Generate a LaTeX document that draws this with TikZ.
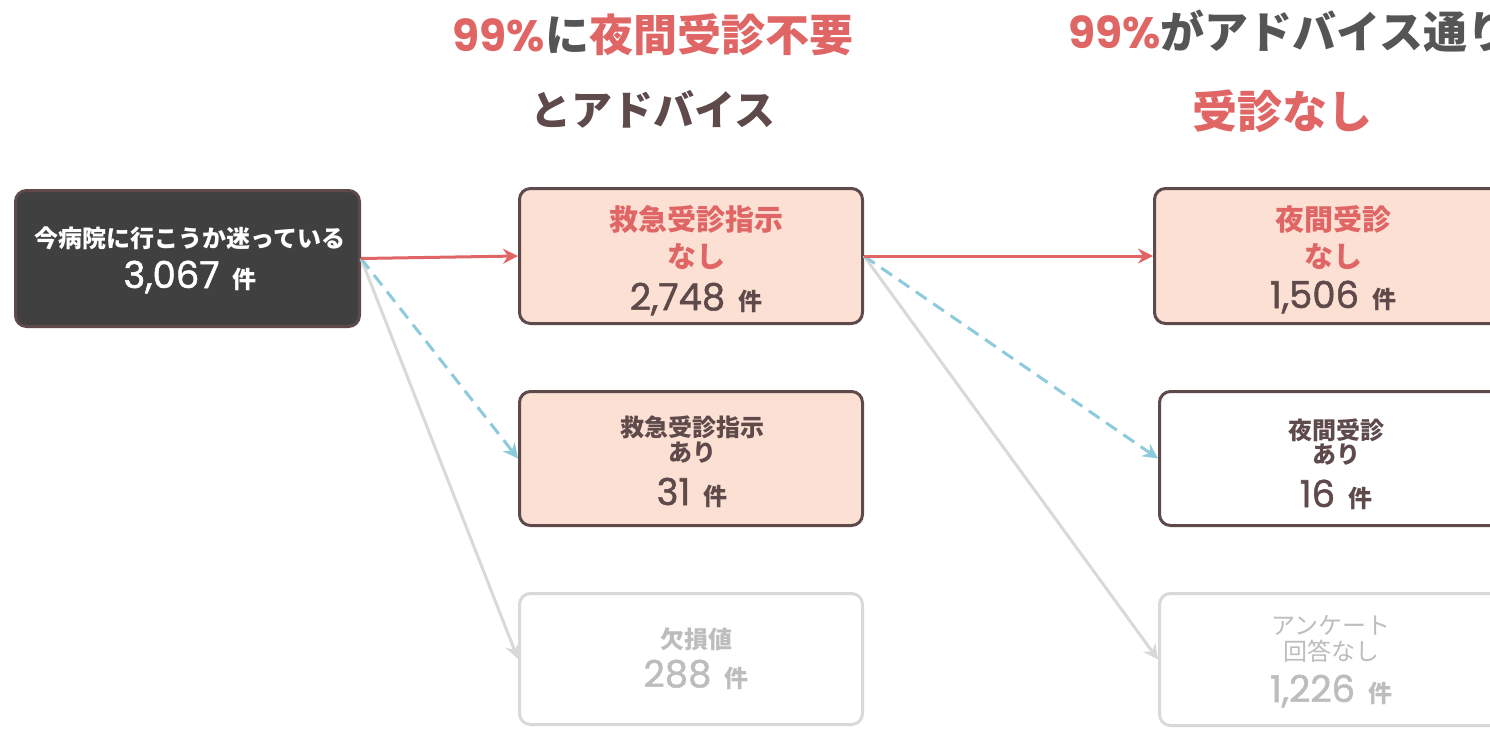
\documentclass[tikz,border=0pt]{standalone}
\usepackage{fontspec}
\setmainfont{Noto Sans CJK JP}
\newfontfamily\numf{Poppins}
\newfontfamily\numm[FakeBold=1.4]{Poppins}
\usetikzlibrary{arrows.meta}
\definecolor{cred}{HTML}{E06666}
\definecolor{cbrown}{HTML}{5E4A4A}
\definecolor{cpink}{HTML}{FCE0D4}
\definecolor{cdark}{HTML}{404040}
\definecolor{cgraytxt}{HTML}{555555}
\definecolor{clight}{HTML}{D9D9D9}
\definecolor{cltxt}{HTML}{BDBDBD}
\definecolor{cblue}{HTML}{8DCADC}
\newcommand{\setfs}[1]{\fontsize{#1pt}{#1pt}\selectfont}
\newcommand{\numken}[1]{{\numm\setfs{37}#1}\hspace{13pt}{\setfs{24}\bfseries 件}}
\tikzset{
  box/.style={draw=cbrown, line width=3pt, rounded corners=11pt, inner sep=0pt},
  pinkbox/.style={box, fill=cpink},
  darkbox/.style={box, fill=cdark},
  whitebox/.style={box, fill=white},
  graybox/.style={draw=clight, line width=3pt, rounded corners=11pt, fill=white, inner sep=0pt},
  txt/.style={anchor=base, inner sep=0pt},
  conn/.style={line width=3pt, -{Stealth[length=15pt,width=15pt,inset=5pt]}},
  redc/.style={conn, draw=cred},
  bluec/.style={conn, draw=cblue, dash pattern=on 13pt off 8pt},
  grayc/.style={conn, draw=clight}
}
\begin{document}
\begin{tikzpicture}[x=1pt,y=-1pt]
\useasboundingbox (0,0) rectangle (1490,728);
\clip (0,0) rectangle (1490,728);
% titles
\node[txt] (t1) at (653,51) {\setfs{44}\bfseries\textcolor{cred}{\numf 99\%}\textcolor{cgraytxt}{に}\textcolor{cred}{夜間受診不要}};
\node[txt, text=cbrown] (t2) at (653,125) {\setfs{41}\bfseries とアドバイス};
\node[txt, anchor=base west] (t3) at (1068,48) {\setfs{44}\bfseries\textcolor{cred}{\numf 99\%}\textcolor{cgraytxt}{がアドバイス通り}};
\node[txt, text=cred] (t4) at (1282,128) {\setfs{45}\bfseries 受診なし};
% boxes
\node[darkbox, minimum width=344pt, minimum height=136pt] (A) at (187.5,258.5) {};
\node[pinkbox, minimum width=343pt, minimum height=135pt] (B1) at (691,256) {};
\node[pinkbox, minimum width=343pt, minimum height=134pt] (B2) at (691,458.5) {};
\node[graybox, minimum width=343pt, minimum height=131pt] (B3) at (691,659) {};
\node[pinkbox, minimum width=361pt, minimum height=135pt] (C1) at (1335,256) {};
\node[whitebox, minimum width=356pt, minimum height=134pt] (C2) at (1337.5,458.5) {};
\node[graybox, minimum width=356pt, minimum height=132pt] (C3) at (1337.5,659.5) {};
% box texts
\node[txt, text=white] (a1) at (190,247) {\setfs{24}\bfseries 今病院に行こうか迷っている};
\node[txt, text=white] (a2) at (190,288) {\numken{3,067}};
\node[txt, text=cred] (b11) at (696,230) {\setfs{29}\bfseries 救急受診指示};
\node[txt, text=cred] (b12) at (696,267) {\setfs{29}\bfseries なし};
\node[txt, text=cbrown] (b13) at (696,310) {\numken{2,748}};
\node[txt, text=cbrown] (b21) at (692,436) {\setfs{24}\bfseries 救急受診指示};
\node[txt, text=cbrown] (b22) at (692,461) {\setfs{24}\bfseries あり};
\node[txt, text=cbrown] (b23) at (692,505) {\numken{31}};
\node[txt, text=cltxt] (b31) at (696,648) {\setfs{24}\bfseries 欠損値};
\node[txt, text=cltxt] (b32) at (696,687) {\numken{288}};
\node[txt, text=cred] (c11) at (1333,230) {\setfs{29}\bfseries 夜間受診};
\node[txt, text=cred] (c12) at (1333,267) {\setfs{29}\bfseries なし};
\node[txt, text=cbrown] (c13) at (1333,308) {\numken{1,506}};
\node[txt, text=cbrown] (c21) at (1336,439) {\setfs{24}\bfseries 夜間受診};
\node[txt, text=cbrown] (c22) at (1336,463) {\setfs{24}\bfseries あり};
\node[txt, text=cbrown] (c23) at (1336,507) {\numken{16}};
\node[txt, text=cltxt] (c31) at (1331,634) {\setfs{24}アンケート};
\node[txt, text=cltxt] (c32) at (1331,660) {\setfs{24}回答なし};
\node[txt, text=cltxt] (c33) at (1331,702) {\numken{1,226}};
% connectors
\draw[grayc] (A.east) -- (B3.west);
\draw[bluec] (A.east) -- (B2.west);
\draw[redc] (A.east) -- (B1.west);
\draw[grayc] (B1.east) -- (C3.west);
\draw[bluec] (B1.east) -- (C2.west);
\draw[redc] (B1.east) -- (C1.west);
\end{tikzpicture}
\end{document}
